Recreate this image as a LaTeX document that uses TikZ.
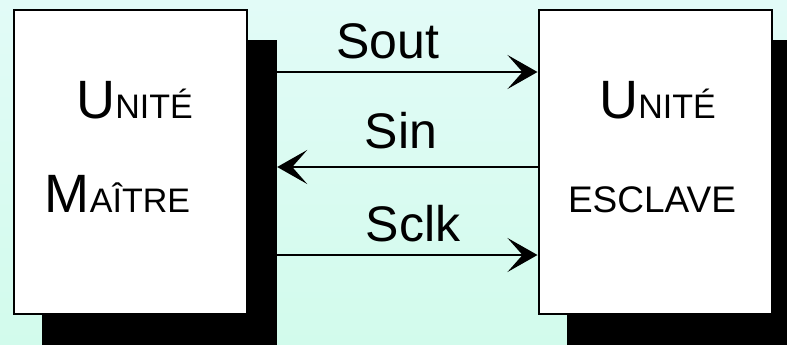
\documentclass[tikz,border=0pt]{standalone}
\usepackage{fontspec}
\setmainfont{Liberation Sans}
\usetikzlibrary{arrows.meta}
\definecolor{bgtop}{RGB}{226,251,247}
\definecolor{bgbot}{RGB}{210,251,236}
\tikzset{
  unitbox/.style={draw=black, line width=2pt, fill=white, minimum width=233pt, minimum height=303pt, inner sep=0pt},
  dropshadow/.style={fill=black, minimum width=235pt, minimum height=305pt, inner sep=0pt},
  sig/.style={line width=2.6pt, -{Stealth[length=30pt, width=34pt, inset=15pt]}},
  siglabel/.style={font=\fontsize{50}{50}\selectfont, anchor=base, inner sep=0pt},
  unitlabel/.style={anchor=base, inner sep=0pt},
}
% capital letter followed by reduced capitals
\newcommand{\capsA}[2]{{\fontsize{54}{54}\selectfont #1}{\fontsize{34}{34}\selectfont #2}}
\begin{document}
\begin{tikzpicture}[x=1pt, y=-1pt]
  % background
  \shade[top color=bgtop, bottom color=bgbot] (0,0) rectangle (787,345);
  \useasboundingbox (0,0) rectangle (787,345);

  % shadows
  \node[dropshadow] (mshadow) at (159.5,192.5) {};
  \node[dropshadow] (sshadow) at (684.5,192.5) {};

  % boxes
  \node[unitbox] (master) at (130.5,162) {};
  \node[unitbox] (slave) at (655,162) {};

  % box labels
  \node[unitlabel] (m1) at (134.5,118) {\capsA{U}{NITÉ}};
  \node[unitlabel] (m2) at (117.5,212) {\capsA{M}{AÎTRE}};
  \node[unitlabel] (s1) at (657.5,118) {\capsA{U}{NITÉ}};
  \node[unitlabel, font=\fontsize{37}{37}\selectfont] (s2) at (652,212) {ESCLAVE};

  % signals
  \draw[sig] (mshadow.east |- 0,72) -- (slave.west |- 0,72);
  \draw[sig] (slave.west |- 0,167) -- (mshadow.east |- 0,167);
  \draw[sig] (mshadow.east |- 0,255) -- (slave.west |- 0,255);

  \node[siglabel] (lout) at (388,59) {Sout};
  \node[siglabel] (lin) at (401,148) {Sin};
  \node[siglabel] (lclk) at (413,241) {Sclk};
\end{tikzpicture}
\end{document}
